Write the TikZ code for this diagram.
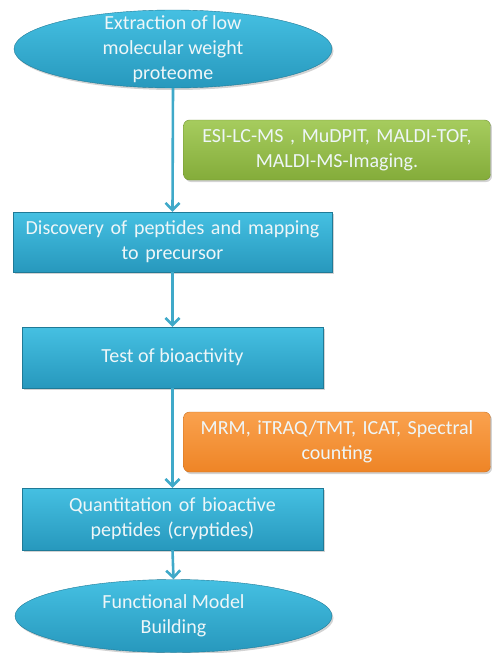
\documentclass[tikz,border=0pt]{standalone}
\usepackage{fontspec}
\setmainfont{Carlito}
\usetikzlibrary{shapes.geometric,arrows.meta,shadows}
\definecolor{bluetop}{HTML}{45C0E2}
\definecolor{bluebot}{HTML}{2798BD}
\definecolor{greentop}{HTML}{A6CC5E}
\definecolor{greenbot}{HTML}{84AC3A}
\definecolor{orangetop}{HTML}{FAA24E}
\definecolor{orangebot}{HTML}{EE8426}
\definecolor{arrowblue}{HTML}{3FA9C9}
\definecolor{txt}{HTML}{EEF6F8}
\tikzset{
  lbl/.style={text=txt, font=\fontsize{20}{25}\selectfont, align=center, inner sep=1pt},
  shad/.style={drop shadow={shadow xshift=1.5pt, shadow yshift=-2pt, opacity=0.35}},
  base/.style={lbl, shad},
  bluebox/.style={base, rectangle, top color=bluetop, bottom color=bluebot, draw=bluebot!80!black, line width=0.4pt},
  blueell/.style={shad, ellipse, top color=bluetop, bottom color=bluebot, draw=bluebot!80!black, line width=0.4pt, inner sep=0pt},
  greenbox/.style={base, rectangle, rounded corners=6pt, top color=greentop, bottom color=greenbot, draw=greenbot!85!black, line width=0.4pt},
  orangebox/.style={base, rectangle, rounded corners=6pt, top color=orangetop, bottom color=orangebot, draw=orangebot!85!black, line width=0.4pt},
  flow/.style={draw=arrowblue, line width=2.6pt, -{Straight Barb[length=7pt,width=14pt,line width=2.6pt]}}
}
\begin{document}
\begin{tikzpicture}[x=1pt,y=-1pt]
\useasboundingbox (0,0) rectangle (491,653);
\node[blueell, minimum width=318, minimum height=78] (e1) at (173,49) {};
\node[lbl] (e1t) at (e1.center) {Extraction of low\\molecular weight\\proteome};
\node[greenbox, text width=300pt, minimum width=307, minimum height=60] (g) at (337,150) {ESI-LC-MS , MuDPIT, MALDI-TOF,\\MALDI-MS-Imaging.};
\node[bluebox, text width=312pt, minimum width=319, minimum height=60] (b1) at (172.5,242) {Discovery of peptides and mapping\\to precursor};
\node[bluebox, minimum width=301, minimum height=61] (b2) at (172.5,357.5) {Test of bioactivity};
\node[orangebox, text width=300pt, minimum width=307, minimum height=60] (o) at (337,442) {MRM, iTRAQ/TMT, ICAT, Spectral\\counting};
\node[bluebox, text width=294pt, minimum width=301, minimum height=62] (b3) at (172.5,519) {Quantitation of bioactive\\peptides (cryptides)};
\node[blueell, minimum width=317, minimum height=73] (e2) at (173.5,616) {};
\node[lbl] (e2t) at (e2.center) {Functional Model\\Building};
\draw[flow] (e1.south) -- (b1.north);
\draw[flow] (b1.south) -- (b2.north);
\draw[flow] (b2.south) -- (b3.north);
\draw[flow] (b3.south) -- (e2.north);
\end{tikzpicture}
\end{document}
